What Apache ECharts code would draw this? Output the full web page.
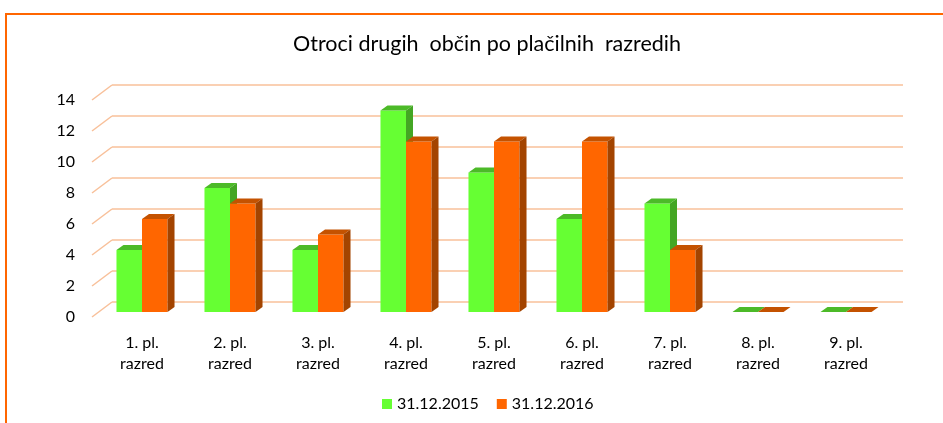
<!DOCTYPE html>
<html>
<head>
<meta charset="utf-8">
<script src="https://cdn.jsdelivr.net/npm/echarts@6/dist/echarts.min.js"></script>
<style>
  html, body { margin: 0; padding: 0; background: #fff; }
  #chart { width: 943px; height: 423px; }
</style>
</head>
<body>
<div id="chart"></div>
<script>
// podatki
var categories = ['1. pl.\nrazred', '2. pl.\nrazred', '3. pl.\nrazred', '4. pl.\nrazred', '5. pl.\nrazred',
                  '6. pl.\nrazred', '7. pl.\nrazred', '8. pl.\nrazred', '9. pl.\nrazred'];
var v2015 = [4, 8, 4, 13, 9, 6, 7, 0, 0];
var v2016 = [6, 7, 5, 11, 11, 11, 4, 0, 0];
var yTicks = [0, 2, 4, 6, 8, 10, 12, 14];
var seriesNames = ['31.12.2015', '31.12.2016'];

var FONT = 'Lato';
var gridColor = '#f8c09a';

// 3d stolpec: sprednja ploskev, vrh in desna stranica
function bar3d(side, cFront, cTop, cSide) {
    return function (params, api) {
        var ci = api.value(0), v = api.value(1);
        var base = api.coord([ci, 0]);
        var top = api.coord([ci, v]);
        var bw = api.size([1, 0])[0] * 0.29;
        var x0 = side < 0 ? base[0] - bw : base[0];
        var x1 = x0 + bw;
        var y0 = base[1], y1 = top[1];
        var dx = 7, dy = 5;
        return {
            type: 'group',
            children: [
                { type: 'rect', shape: { x: x0, y: y1, width: bw, height: y0 - y1 }, style: { fill: cFront } },
                { type: 'polygon', shape: { points: [[x0, y1], [x1, y1], [x1 + dx, y1 - dy], [x0 + dx, y1 - dy]] }, style: { fill: cTop } },
                { type: 'polygon', shape: { points: [[x1, y1], [x1 + dx, y1 - dy], [x1 + dx, y0 - dy], [x1, y0]] }, style: { fill: cSide } }
            ]
        };
    };
}

var myChart = echarts.init(document.getElementById('chart'));
myChart.setOption({
    animation: false,
    color: ['#66ff33', '#ff6600'],
    title: {
        text: 'Otroci drugih  občin po plačilnih  razredih',
        left: 288, top: 28,
        textStyle: { fontFamily: FONT, fontSize: 21.5, fontWeight: 'normal', color: '#000' }
    },
    legend: {
        bottom: 6, left: 377,
        itemWidth: 10, itemHeight: 10, itemGap: 18,
        icon: 'rect',
        textStyle: { fontFamily: FONT, fontSize: 16, color: '#000' },
        data: seriesNames
    },
    graphic: [{
        type: 'rect', silent: true,
        shape: { x: 6, y: 14, width: 960, height: 440 },
        style: { fill: null, stroke: '#ff6600', lineWidth: 2 }
    }],
    grid: [
        { left: 112, right: 40, top: 85, bottom: 121 },   // zadnja stena
        { left: 92, right: 60, top: 100, bottom: 106 },   // sprednje oznake
        { left: 98, right: 53, top: 95, bottom: 111 }     // stolpci
    ],
    xAxis: [
        { gridIndex: 0, type: 'value', min: 0, max: 1, show: false },
        { gridIndex: 1, type: 'value', min: 0, max: 1, show: false },
        {
            gridIndex: 2, type: 'category', data: categories,
            axisLine: { show: false }, axisTick: { show: false },
            axisLabel: { margin: 20, fontFamily: FONT, fontSize: 16, lineHeight: 21, color: '#000' }
        }
    ],
    yAxis: [
        {
            gridIndex: 0, type: 'value', min: 0, max: 14, interval: 2,
            axisLine: { show: false }, axisTick: { show: false }, axisLabel: { show: false },
            splitLine: { lineStyle: { color: gridColor, width: 1.5 } }
        },
        {
            gridIndex: 1, type: 'value', min: 0, max: 14, interval: 2,
            axisLine: { show: false }, axisTick: { show: false }, splitLine: { show: false },
            axisLabel: { margin: 17, fontFamily: FONT, fontSize: 16, color: '#000' }
        },
        { gridIndex: 2, type: 'value', min: 0, max: 14, show: false }
    ],
    series: [
        {
            type: 'custom', xAxisIndex: 0, yAxisIndex: 0, silent: true,
            data: yTicks.map(function (t) { return [0, t]; }),
            renderItem: function (params, api) {
                var p = api.coord([0, api.value(1)]);
                return {
                    type: 'line',
                    shape: { x1: p[0] - 20, y1: p[1] + 15, x2: p[0], y2: p[1] },
                    style: { stroke: gridColor, lineWidth: 1.5 }
                };
            }
        },
        {
            name: seriesNames[0], type: 'custom', xAxisIndex: 2, yAxisIndex: 2,
            itemStyle: { color: '#66ff33' },
            data: v2015.map(function (v, i) { return [i, v]; }),
            renderItem: bar3d(-1, '#66ff33', '#4cba28', '#44a624')
        },
        {
            name: seriesNames[1], type: 'custom', xAxisIndex: 2, yAxisIndex: 2,
            itemStyle: { color: '#ff6600' },
            data: v2016.map(function (v, i) { return [i, v]; }),
            renderItem: bar3d(1, '#ff6600', '#c45200', '#a34400')
        }
    ]
});
</script>
</body>
</html>
